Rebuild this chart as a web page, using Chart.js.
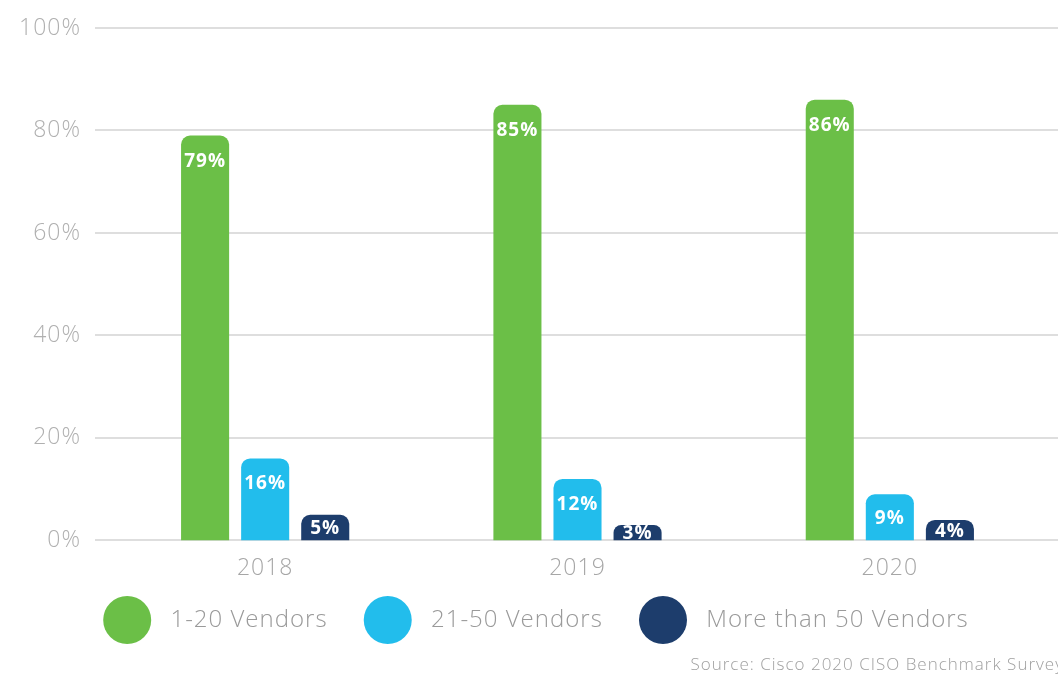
<!DOCTYPE html>
<html>
<head>
<meta charset="utf-8">
<script src="https://cdn.jsdelivr.net/npm/chart.js@4/dist/chart.umd.min.js"></script>
<style>
  html, body { margin: 0; padding: 0; background: #fff; }
  #wrap { width: 1058px; height: 677px; }
</style>
</head>
<body>
<div id="wrap"><canvas id="vendors"></canvas></div>
<script>
const years = ['2018', '2019', '2020'];
const vendors1to20 = [79, 85, 86];
const vendors21to50 = [16, 12, 9];
const vendorsOver50 = [5, 3, 4];
const yTicks = [0, 20, 40, 60, 80, 100];
const sourceNote = 'Source: Cisco 2020 CISO Benchmark Survey';

const GREEN = '#6bbf47';
const CYAN = '#22bdec';
const NAVY = '#1d3d6c';
const FONT = "'Open Sans', Lato, sans-serif";

// wide, airy type everywhere
const spacing = {
    id: 'spacing',
    beforeLayout(chart) { chart.ctx.letterSpacing = '1px'; },
    beforeDraw(chart) { chart.ctx.letterSpacing = '1px'; }
};

// horizontal rules, running a bit wider than the plot area
const rulesPlugin = {
    id: 'rules',
    beforeDatasetsDraw(chart) {
        const ctx = chart.ctx;
        const y = chart.scales.y;
        ctx.save();
        ctx.strokeStyle = '#dedede';
        ctx.lineWidth = 2;
        yTicks.forEach(v => {
            const py = Math.round(y.getPixelForValue(v));
            ctx.beginPath();
            ctx.moveTo(95, py);
            ctx.lineTo(chart.width, py);
            ctx.stroke();
        });
        ctx.restore();
    }
};

// white percentage inside the top of each bar
const barLabels = {
    id: 'barLabels',
    afterDatasetsDraw(chart) {
        const ctx = chart.ctx;
        ctx.save();
        ctx.font = "bold 19px " + FONT;
        ctx.fillStyle = '#ffffff';
        ctx.textAlign = 'center';
        ctx.textBaseline = 'alphabetic';
        chart.data.datasets.forEach((ds, i) => {
            chart.getDatasetMeta(i).data.forEach((bar, j) => {
                const h = bar.base - bar.y;
                ctx.fillText(ds.data[j] + '%', bar.x, bar.y + Math.min(31, (h + 13) / 2));
            });
        });
        ctx.restore();
    }
};

// source line in the bottom-right corner
const sourcePlugin = {
    id: 'source',
    afterDraw(chart) {
        const ctx = chart.ctx;
        ctx.save();
        ctx.font = "300 17px " + FONT;
        ctx.fillStyle = '#a0a0a0';
        ctx.textAlign = 'right';
        ctx.textBaseline = 'middle';
        ctx.fillText(sourceNote, chart.width + 6, 665);
        ctx.restore();
    }
};

const baseLabels = Chart.defaults.plugins.legend.labels.generateLabels;

new Chart(document.getElementById('vendors'), {
    type: 'bar',
    data: {
        labels: years,
        datasets: [
            { label: '1-20 Vendors', data: vendors1to20, backgroundColor: GREEN },
            { label: '21-50 Vendors', data: vendors21to50, backgroundColor: CYAN },
            { label: 'More than 50 Vendors', data: vendorsOver50, backgroundColor: NAVY }
        ]
    },
    options: {
        responsive: true,
        maintainAspectRatio: false,
        animation: false,
        borderRadius: 9,
        borderSkipped: 'bottom',
        categoryPercentage: 0.577,
        barPercentage: 0.8,
        layout: { padding: { top: 28, right: 0, left: 14, bottom: 23 } },
        scales: {
            x: {
                grid: { display: false, drawTicks: false },
                border: { display: false },
                ticks: { color: '#a6a6a6', font: { family: FONT, size: 23, weight: 300 }, padding: 14 }
            },
            y: {
                min: 0,
                max: 100,
                afterFit(scale) {
                    scale.width = 95;
                    scale.paddingTop = 0;
                    scale.paddingBottom = 0;
                },
                grid: { display: false, drawTicks: false },
                border: { display: false },
                afterBuildTicks(scale) { scale.ticks = yTicks.map(v => ({ value: v })); },
                ticks: {
                    color: '#b0b0b0',
                    font: { family: FONT, size: 23, weight: 300 },
                    padding: 28,
                    callback: v => v + '%'
                }
            },
            // empty right margin so the rules run past the last group
            gutter: {
                type: 'linear',
                position: 'right',
                afterFit(scale) {
                    scale.width = 12;
                    scale.paddingTop = 0;
                    scale.paddingBottom = 0;
                },
                grid: { display: false, drawTicks: false },
                border: { display: false },
                ticks: { display: false }
            }
        },
        plugins: {
            legend: {
                position: 'bottom',
                labels: {
                    boxWidth: 48,
                    boxHeight: 48,
                    useBorderRadius: true,
                    borderRadius: 24,
                    padding: 0,
                    color: '#9a9a9a',
                    font: { family: FONT, size: 24, weight: 300 },
                    generateLabels(chart) {
                        const items = baseLabels(chart);
                        return items.map((l, i) => Object.assign(l, {
                            text: ' ' + l.text + (i < items.length - 1 ? '     ' : ''),
                            lineWidth: 0
                        }));
                    }
                }
            },
            tooltip: { enabled: false }
        }
    },
    plugins: [spacing, rulesPlugin, barLabels, sourcePlugin]
});
</script>
</body>
</html>
